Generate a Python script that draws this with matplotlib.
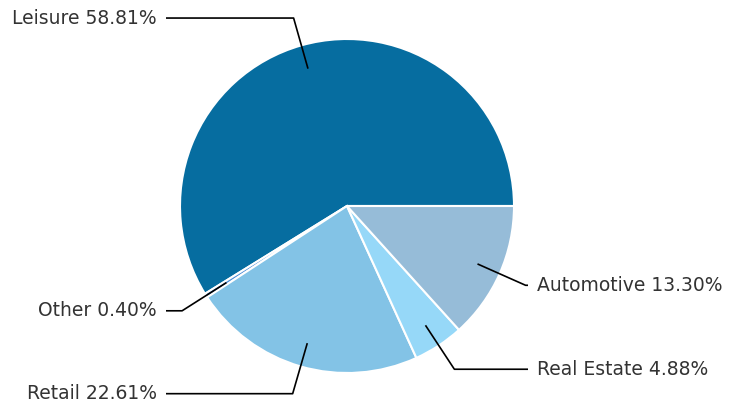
import numpy as np
import matplotlib.pyplot as plt

plt.rcParams['font.family'] = ['DejaVu Sans']

# pie data, counterclockwise from 3 o'clock
labels = ['Leisure', 'Other', 'Retail', 'Real Estate', 'Automotive']
shares = [58.81, 0.40, 22.61, 4.88, 13.30]
colors = ['#066da0', '#4f8fd8', '#83c3e6', '#96d8f8', '#96bcd8']

fig = plt.figure(figsize=(7.38, 4.05), dpi=100)
ax = fig.add_axes([0, 0, 1, 1])
R = 167.0

wedges, _ = ax.pie(shares, colors=colors, startangle=0, counterclock=True,
                   radius=1, wedgeprops=dict(edgecolor='white', linewidth=1.5))

for w, lab, v in zip(wedges, labels, shares):
    ang = np.deg2rad((w.theta1 + w.theta2) / 2)
    c, s = np.cos(ang), np.sin(ang)
    x0, y0 = 0.855 * c, 0.855 * s
    x1, y1 = 1.17 * c, 1.17 * s
    side = 1 if c >= 0 else -1
    x2 = side * 181 / R
    ax.plot([x0, x1, x2], [y0, y1, y1], color='black', lw=1.2, solid_capstyle='butt')
    ax.text(x2 + side * 0.055, y1, f'{lab} {v:.2f}%', fontsize=13.5,
            color='#333333', va='center', ha='left' if side > 0 else 'right')

ax.set_aspect('auto')
ax.set_xlim(-347 / R, (738 - 347) / R)
ax.set_ylim(-199 / R, 206 / R)
ax.axis('off')

fig.savefig('out.png', dpi=100)
